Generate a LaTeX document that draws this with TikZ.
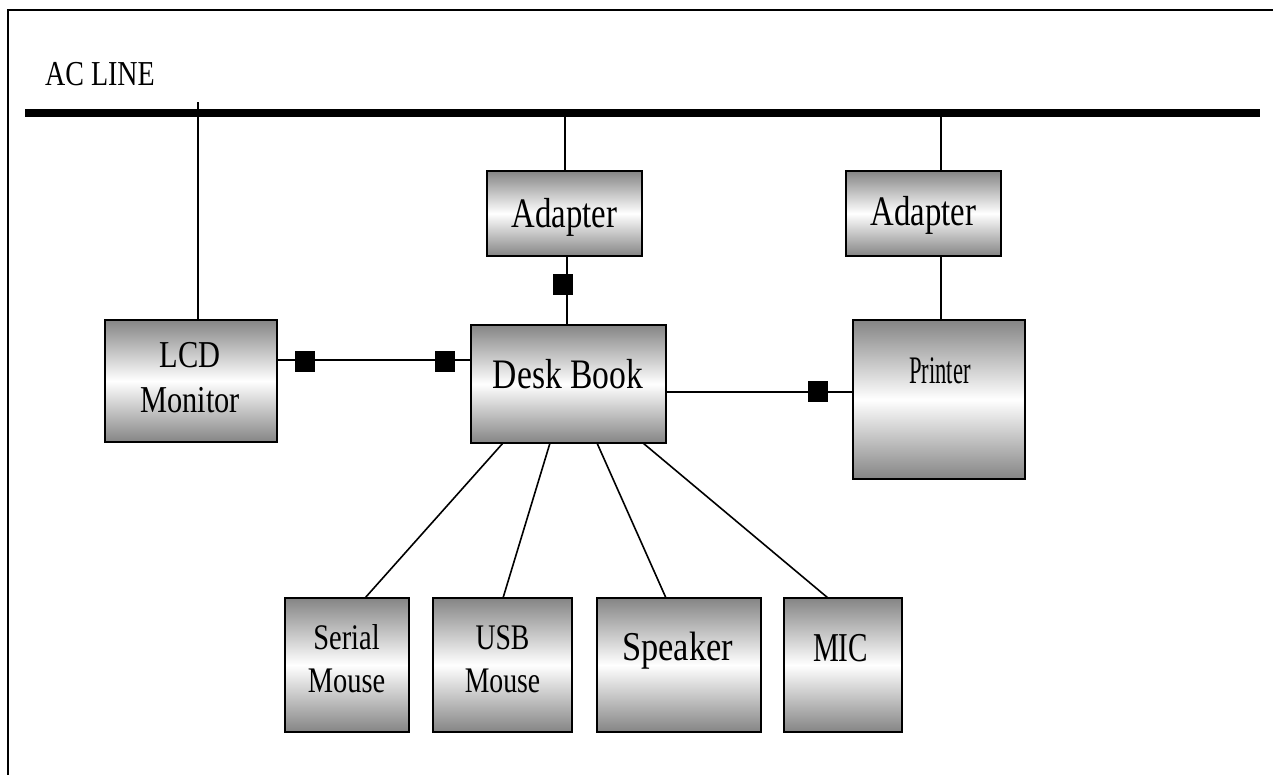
\documentclass[tikz,border=0pt]{standalone}
\usepackage{fontspec}
\setmainfont{Liberation Serif}
\tikzset{
  box/.style={draw=black, line width=2pt, inner sep=0pt, outer sep=0pt,
    top color=black!48, bottom color=black!48, middle color=white},
  wire/.style={draw=black, line width=1.6pt},
  bus/.style={draw=black, line width=8pt},
  plug/.style={fill=black, draw=none, minimum width=20pt, minimum height=21pt, inner sep=0pt},
  lbl/.style={inner sep=0pt, text=black, align=center},
  frame/.style={draw=black, line width=2.6pt}
}
\begin{document}
\begin{tikzpicture}[x=1pt,y=-1pt]
\useasboundingbox (0,0) rectangle (1273,774);
\fill[white] (0,0) rectangle (1273,774);
% page frame
\draw[frame] (8,780) -- (8,10) -- (1280,10);

% AC line
\node[lbl, anchor=base west, xscale=0.8, font=\fontsize{35}{40}\selectfont] (acl) at (45,85) {AC LINE};
\coordinate (busL) at (25,112.5);
\coordinate (busR) at (1260,112.5);
\draw[bus] (busL) -- (busR);

% boxes
\node[box, minimum width=172pt, minimum height=122pt] (lcd) at (191,381) {};
\node[box, minimum width=155pt, minimum height=85pt] (ad1) at (564.5,213.5) {};
\node[box, minimum width=195pt, minimum height=118pt] (desk) at (568.5,384) {};
\node[box, minimum width=155pt, minimum height=85pt] (ad2) at (923.5,213.5) {};
\node[box, minimum width=172pt, minimum height=159pt] (prn) at (939,399.5) {};
\node[box, minimum width=124pt, minimum height=134pt] (ser) at (347,665) {};
\node[box, minimum width=139pt, minimum height=134pt] (usb) at (502.5,665) {};
\node[box, minimum width=164pt, minimum height=134pt] (spk) at (679,665) {};
\node[box, minimum width=118pt, minimum height=134pt] (mic) at (843,665) {};

% labels
\node[lbl, xscale=0.8, font=\fontsize{38}{45}\selectfont] (lcdT) at (190,378) {LCD\\Monitor};
\node[lbl, anchor=base, xscale=0.78, font=\fontsize{42}{48}\selectfont] (ad1T) at (564.5,227) {Adapter};
\node[lbl, anchor=base, xscale=0.78, font=\fontsize{42}{48}\selectfont] (ad2T) at (923.5,225) {Adapter};
\node[lbl, anchor=base, xscale=0.8, font=\fontsize{42}{48}\selectfont] (deskT) at (568,388) {Desk Book};
\node[lbl, anchor=base, xscale=0.58, font=\fontsize{39}{44}\selectfont] (prnT) at (940,383) {Printer};
\node[lbl, xscale=0.79, font=\fontsize{36}{43}\selectfont] (serT) at (346.5,659) {Serial\\Mouse};
\node[lbl, xscale=0.77, font=\fontsize{36}{43}\selectfont] (usbT) at (502.5,659) {USB\\Mouse};
\node[lbl, anchor=base, xscale=0.84, font=\fontsize{41}{47}\selectfont] (spkT) at (677.5,660) {Speaker};
\node[lbl, anchor=base, xscale=0.71, font=\fontsize{41}{47}\selectfont] (micT) at (840.5,661) {MIC};

% power connections
\coordinate (lcdTop) at (198,102);
\draw[wire] (lcdTop) -- (lcdTop |- lcd.north);
\coordinate (ad1Top) at (565,112);
\draw[wire] (ad1Top) -- (ad1Top |- ad1.north);
\coordinate (ad2Top) at (941,112);
\draw[wire] (ad2Top) -- (ad2Top |- ad2.north);
\draw[wire] (ad2Top |- ad2.south) -- (ad2Top |- prn.north);

% adapter to desk book
\coordinate (ad1Bot) at (567,256);
\draw[wire] (ad1Bot) -- (ad1Bot |- desk.north);
\node[plug] (p1) at (563,284.5) {};

% LCD to desk book
\coordinate (lcdR) at (277,360);
\draw[wire] (lcdR) -- (lcdR -| desk.west);
\node[plug] (p2) at (305,361) {};
\node[plug] (p3) at (445,361) {};

% desk book to printer
\coordinate (deskR) at (666,392);
\draw[wire] (deskR) -- (deskR -| prn.west);
\node[plug] (p4) at (817.5,391.5) {};

% desk book to peripherals
\draw[wire] (503,443) -- (ser.north -| 365,0);
\draw[wire] (550,443) -- (usb.north -| 503,0);
\draw[wire] (597,443) -- (spk.north -| 666,0);
\draw[wire] (643,443) -- (mic.north -| 828,0);
\end{tikzpicture}
\end{document}
